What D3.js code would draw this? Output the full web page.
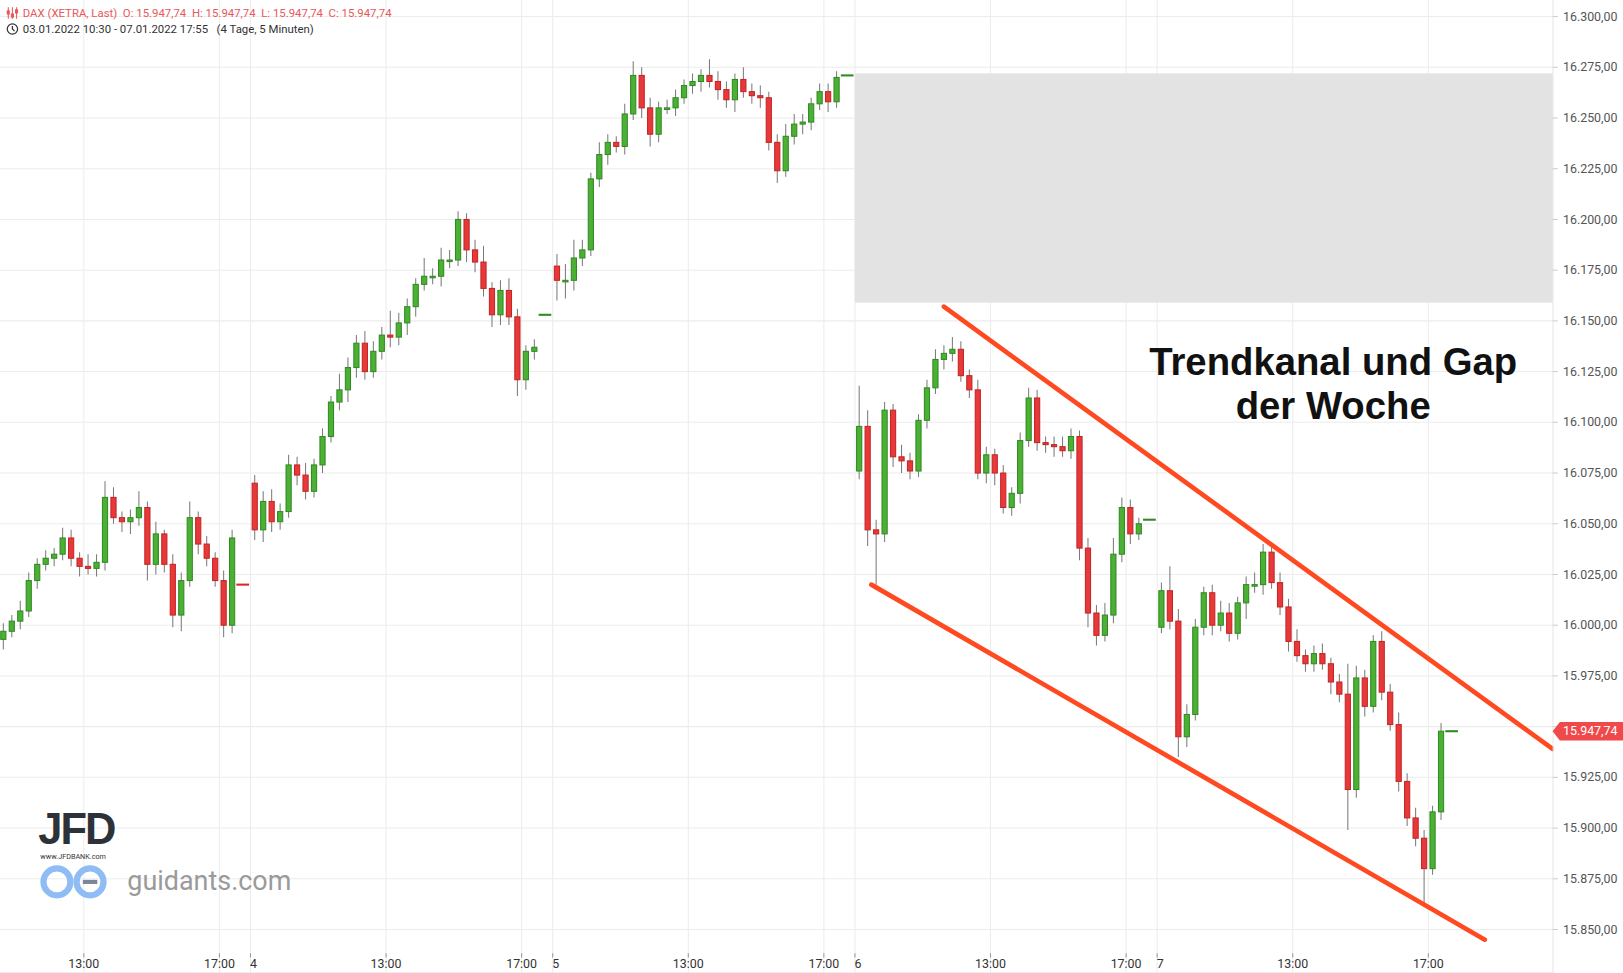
<!DOCTYPE html>
<html><head><meta charset="utf-8">
<script src="https://cdn.jsdelivr.net/npm/d3@7"></script>
<style>body{margin:0;background:#fff;font-family:Roboto,"Noto Sans",sans-serif}</style>
</head><body><svg id="c" width="1623" height="973" viewBox="0 0 1568 940"></svg>
<script>
// ---- DATA (15-minute candles, 9:00-17:30 per day; day 1 starts 10:30) ----
const days = ["3","4","5","6","7"];
const dayStartIdx = [6, 0, 0, 0, 0];
const dayOpen = [15993, 16070, 16177, 16076, 15999];
const closes3 = [15997,16002,16007,16022,16030,16033,16035,16043,16033,16029,16028,16031,16063,16053,16051,16053,16058,16030,16045,16030,16005,16022,16053,16040,16033,16022,16000,16043];
const closes4 = [16047,16061,16051,16056,16079,16074,16066,16079,16093,16110,16116,16127,16139,16125,16135,16143,16142,16149,16157,16168,16172,16172,16180,16180,16200,16185,16179,16166,16153,16165,16152,16121,16135,16137];
const closes5 = [16170,16170,16181,16185,16220,16232,16238,16236,16252,16271,16255,16242,16255,16255,16260,16266,16268,16271,16268,16264,16259,16269,16263,16261,16260,16238,16224,16241,16247,16248,16257,16263,16258,16270];
const closes6 = [16098,16047,16045,16106,16083,16081,16076,16101,16117,16131,16134,16136,16123,16116,16075,16084,16075,16058,16065,16091,16112,16090,16089,16088,16086,16093,16038,16006,15995,16005,16035,16058,16045,16050];
const closes7 = [16017,16002,15945,15956,15999,16016,16000,16006,15996,16011,16020,16020,16036,16021,16009,15992,15985,15981,15986,15981,15972,15966,15919,15974,15960,15992,15967,15951,15923,15905,15895,15880,15908,15947.74];
const wickUp = [
 "4 3 5 4 3 4 3 5 4 3 6 4 8 5 3 4 8 3 6 2 5 4 8 3 4 3 5 4",
 "4 5 6 4 5 4 6 3 4 3 8 5 4 6 5 4 12 5 4 3 9 4 6 5 4 3 5 8 3 5 6 4 3 4",
 "6 8 9 5 3 6 4 3 5 7 4 5 3 4 4 3 4 3 8 5 4 3 6 4 5 3 4 6 5 4 3 4 4 3",
 "20 8 5 4 3 6 4 3 4 5 4 6 4 3 5 4 3 4 3 4 5 4 3 4 5 4 3 5 4 6 8 5 4 3",
 "4 12 6 5 4 3 4 6 5 3 4 6 4 3 5 4 6 3 4 5 3 4 15 6 4 3 5 4 6 4 5 4 3 4"];
const wickDn = [
 "5 3 4 3 4 3 4 3 4 5 3 4 4 3 5 6 4 8 5 4 6 8 3 5 4 3 6 4",
 "5 6 5 4 3 5 4 3 4 3 4 6 5 4 3 4 5 4 6 5 3 4 5 4 3 6 5 4 6 5 4 8 5 4",
 "10 9 5 4 3 4 5 3 4 3 5 6 4 3 4 3 4 5 3 5 4 6 3 4 5 4 6 3 4 5 4 3 5 3",
 "4 8 25 4 5 6 4 3 4 3 5 4 3 4 3 5 6 3 4 5 3 4 4 5 3 4 6 7 5 3 4 4 5 3",
 "3 4 10 5 3 4 5 3 4 3 8 4 5 3 4 5 3 4 4 3 6 4 20 4 5 3 4 3 5 4 4 18 3 4"];
const postClose = [16020, 16153, 16271, 16052, 15947.74];
const gapRange = [16159, 16272];
const upperTrend = [[352.5, 16157], [568, 15939]];
const lowerTrend = [[326.8, 16020], [544, 15845]];
const priceTicks = d3.range(15850, 16301, 25);
const timeLabels = [["13:00",0,48],["17:00",0,96],["4",1,0],["13:00",1,48],["17:00",1,96],["5",2,0],["13:00",2,48],["17:00",2,96],["6",3,0],["13:00",3,48],["17:00",3,96],["7",4,0],["13:00",4,48],["17:00",4,96]];
const lastPrice = 15947.74;

// ---- CHART ----
const SLOTS = 107;
const svg = d3.select("#c");
const x = d3.scaleLinear().domain([0, 568]).range([-50, 1500]);
const y = d3.scaleLinear().domain([15850, 16300]).range([898, 16]);
const fmt = v => d3.format(",.2f")(v).replace(/,/g,"#").replace(/\./g,",").replace(/#/g,".");

const g0 = svg.append("g");
g0.selectAll(".hg").data(priceTicks).join("line").attr("x1",0).attr("x2",1500)
  .attr("y1",d=>y(d)).attr("y2",d=>y(d)).attr("stroke","#ececec");
g0.selectAll(".vg").data(timeLabels).join("line")
  .attr("x1",d=>x(d[1]*SLOTS+d[2])).attr("x2",d=>x(d[1]*SLOTS+d[2])).attr("y1",0).attr("y2",940).attr("stroke","#ececec");
g0.append("rect").attr("x",x(3*SLOTS)).attr("width",1500-x(3*SLOTS))
  .attr("y",y(gapRange[1])).attr("height",y(gapRange[0])-y(gapRange[1])).attr("fill","#e3e3e3");

const allCloses=[closes3,closes4,closes5,closes6,closes7];
const candles=[];
allCloses.forEach((cl,d)=>{
  const up=wickUp[d].split(" ").map(Number), dn=wickDn[d].split(" ").map(Number);
  let o=dayOpen[d];
  cl.forEach((c,k)=>{
    const i=dayStartIdx[d]+k;
    candles.push({g:d*SLOTS+i*3,o,c,h:Math.max(o,c)+up[k],l:Math.min(o,c)-dn[k]});
    o=c;
  });
});
const cg=svg.append("g");
cg.selectAll(".w").data(candles).join("line")
  .attr("x1",d=>x(d.g+1.5)).attr("x2",d=>x(d.g+1.5)).attr("y1",d=>y(d.h)).attr("y2",d=>y(d.l))
  .attr("stroke","#7a7a7a").attr("stroke-width",1);
cg.selectAll(".b").data(candles).join("rect")
  .attr("x",d=>x(d.g+1.5)-2.5).attr("width",5)
  .attr("y",d=>y(Math.max(d.o,d.c))).attr("height",d=>Math.max(1.5,Math.abs(y(d.o)-y(d.c))))
  .attr("fill",d=>d.c>=d.o?"#4cb034":"#e8393a").attr("stroke",d=>d.c>=d.o?"#2f8a22":"#c42424").attr("stroke-width",1);
postClose.forEach((p,d)=>{
  const last=allCloses[d][allCloses[d].length-1];
  svg.append("line").attr("x1",x(d*SLOTS+102)).attr("x2",x(d*SLOTS+106.5)).attr("y1",y(p)).attr("y2",y(p))
    .attr("stroke",p>=last?"#2f8a22":"#d42a2a").attr("stroke-width",2);
});

[upperTrend,lowerTrend].forEach(t=>{
  svg.append("line").attr("x1",x(t[0][0])).attr("y1",y(t[0][1])).attr("x2",x(t[1][0])).attr("y2",y(t[1][1]))
    .attr("stroke","#ff4a21").attr("stroke-width",4.5).attr("stroke-linecap","round");
});

svg.append("line").attr("x1",1500.5).attr("x2",1500.5).attr("y1",0).attr("y2",940).attr("stroke","#ddd");
svg.append("rect").attr("x",1501).attr("y",0).attr("width",122).attr("height",973).attr("fill","#fff");
const ty=y(lastPrice);
svg.selectAll(".pl").data(priceTicks.filter(d=>Math.abs(y(d)-ty)>12)).join("text").attr("x",1510).attr("y",d=>y(d)+4)
  .text(d=>fmt(d)).attr("font-size",12).attr("fill","#555");
svg.selectAll(".pt").data(priceTicks).join("line").attr("x1",1500).attr("x2",1505).attr("y1",d=>y(d)).attr("y2",d=>y(d)).attr("stroke","#ccc");
svg.append("path").attr("d",`M1500,${ty} L1507,${ty-9} L1568,${ty-9} L1568,${ty+9} L1507,${ty+9} Z`).attr("fill","#f0494b");
svg.append("text").attr("x",1510).attr("y",ty+4).text(fmt(lastPrice)).attr("font-size",12).attr("fill","#fff");

svg.append("line").attr("x1",0).attr("x2",1500).attr("y1",940).attr("y2",940).attr("stroke","#ddd");
svg.selectAll(".tl").data(timeLabels).join("text")
  .attr("x",d=>x(d[1]*SLOTS+d[2])+(d[0].length>1?0:3)).attr("y",935)
  .attr("text-anchor","middle").text(d=>d[0]).attr("font-size",12).attr("fill","#333");
svg.selectAll(".tt").data(timeLabels).join("line")
  .attr("x1",d=>x(d[1]*SLOTS+d[2])).attr("x2",d=>x(d[1]*SLOTS+d[2])).attr("y1",921).attr("y2",925).attr("stroke","#999");

const hd=svg.append("g").attr("font-size",11);
hd.append("text").attr("x",22).attr("y",16).attr("fill","#e9575a")
  .text("DAX (XETRA, Last)  O: 15.947,74  H: 15.947,74  L: 15.947,74  C: 15.947,74").attr("xml:space","preserve");
[[8,0],[12,3],[16,-1]].forEach(([xx,o])=>{
  hd.append("line").attr("x1",xx).attr("x2",xx).attr("y1",7).attr("y2",18).attr("stroke","#e9575a");
  hd.append("rect").attr("x",xx-1.5).attr("y",10+o).attr("width",3).attr("height",4).attr("fill","#e9575a");
});
hd.append("circle").attr("cx",12).attr("cy",28).attr("r",5).attr("fill","none").attr("stroke","#333").attr("stroke-width",1.2);
hd.append("path").attr("d","M12,25 L12,28 L14,30").attr("fill","none").attr("stroke","#333").attr("stroke-width",1.2);
hd.append("text").attr("x",22).attr("y",32).attr("fill","#333").attr("xml:space","preserve")
  .text("03.01.2022 10:30 - 07.01.2022 17:55   (4 Tage, 5 Minuten)");

const tt=svg.append("g").attr("font-family","'Liberation Sans', Arial, sans-serif").attr("font-weight","bold").attr("font-size",37).attr("fill","#111").attr("text-anchor","middle");
tt.append("text").attr("x",1288).attr("y",362).text("Trendkanal und Gap");
tt.append("text").attr("x",1288).attr("y",405).text("der Woche");

const lg=svg.append("g");
lg.append("text").attr("x",37).attr("y",815).attr("font-size",42).attr("font-weight","bold").attr("fill","#2d3238").attr("font-family","'Liberation Sans', sans-serif").attr("letter-spacing",-2).text("JFD");
lg.append("text").attr("x",39).attr("y",830).attr("font-size",7).attr("fill","#333").text("www.JFDBANK.com");
lg.append("circle").attr("cx",55).attr("cy",852).attr("r",13).attr("fill","none").attr("stroke","#8fbcf5").attr("stroke-width",6);
lg.append("circle").attr("cx",87).attr("cy",852).attr("r",13).attr("fill","none").attr("stroke","#8fbcf5").attr("stroke-width",6);
lg.append("rect").attr("x",80).attr("y",850).attr("width",14).attr("height",4).attr("fill","#7a8797");
lg.append("text").attr("x",123).attr("y",860).attr("font-size",26).attr("fill","#9a9a9a").text("guidants.com");
</script></body></html>
